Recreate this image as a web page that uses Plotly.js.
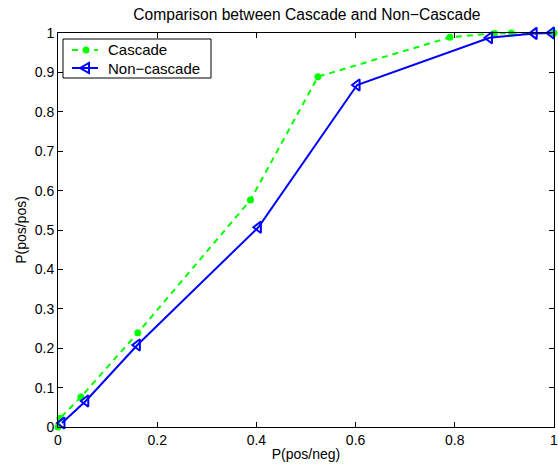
<!DOCTYPE html>
<html>
<head>
<meta charset="utf-8">
<script src="https://cdn.plot.ly/plotly-3.0.1.min.js"></script>
<style>html,body{margin:0;padding:0;background:#fff;}#chart{width:558px;height:467px;}</style>
</head>
<body>
<div id="chart"></div>
<script>
const cascadeX = [0, 0.004, 0.046, 0.161, 0.388, 0.524, 0.790, 0.880, 0.914, 1.0];
const cascadeY = [0, 0.022, 0.076, 0.239, 0.576, 0.889, 0.989, 0.999, 1.0, 1.0];
const nonCascadeX = [0.008, 0.056, 0.160, 0.404, 0.603, 0.870, 0.960, 0.995];
const nonCascadeY = [0.010, 0.066, 0.208, 0.507, 0.868, 0.988, 0.999, 1.0];
const tickVals = [0, 0.1, 0.2, 0.3, 0.4, 0.5, 0.6, 0.7, 0.8, 0.9, 1];
const tickText = ['0', '0.1', '0.2', '0.3', '0.4', '0.5', '0.6', '0.7', '0.8', '0.9', '1'];
const xTickVals = [0, 0.2, 0.4, 0.6, 0.8, 1];
const xTickText = ['0', '0.2', '0.4', '0.6', '0.8', '1'];
const seriesNames = ['Cascade', 'Non\u2212cascade'];
const seriesColors = ['#00ff00', '#0000ff'];

const font = 'Liberation Sans, Arial, Helvetica, sans-serif';
const W = 558, H = 467;
const M = {l: 58, r: 4, t: 33, b: 40};
const PW = W - M.l - M.r, PH = H - M.t - M.b;
// pixel -> paper helpers for the hand-built legend box
const px = v => (v - M.l) / PW;
const py = v => 1 - (v - M.t) / PH;

const traces = [
  {
    x: cascadeX, y: cascadeY, name: seriesNames[0], type: 'scatter', mode: 'lines+markers',
    line: {color: seriesColors[0], width: 2, dash: '6px,5px'},
    marker: {symbol: 'circle', size: 7, color: seriesColors[0]},
    cliponaxis: false
  },
  {
    x: nonCascadeX, y: nonCascadeY, name: seriesNames[1], type: 'scatter', mode: 'lines+markers',
    line: {color: seriesColors[1], width: 2},
    marker: {symbol: 'triangle-left-open', size: 10, color: seriesColors[1], line: {width: 2, color: seriesColors[1]}},
    cliponaxis: false
  }
];

// legend drawn as layout decoration
const legBox = {x0: 63, x1: 211, y0: 39, y1: 78};
const rowY = [50, 68];
const shapes = [
  {type: 'rect', xref: 'paper', yref: 'paper', x0: px(legBox.x0), x1: px(legBox.x1), y0: py(legBox.y1), y1: py(legBox.y0),
   line: {color: '#000', width: 1}, fillcolor: '#fff', layer: 'above'},
  {type: 'line', xref: 'paper', yref: 'paper', x0: px(72), x1: px(98), y0: py(rowY[0]), y1: py(rowY[0]),
   line: {color: seriesColors[0], width: 2, dash: '6px,5px'}, layer: 'above'},
  {type: 'circle', xref: 'paper', yref: 'paper', x0: px(82.5), x1: px(89.5), y0: py(rowY[0] + 3.5), y1: py(rowY[0] - 3.5),
   line: {color: seriesColors[0], width: 0}, fillcolor: seriesColors[0], layer: 'above'},
  {type: 'line', xref: 'paper', yref: 'paper', x0: px(72), x1: px(98), y0: py(rowY[1]), y1: py(rowY[1]),
   line: {color: seriesColors[1], width: 2}, layer: 'above'},
  {type: 'path', xref: 'paper', yref: 'paper',
   path: 'M ' + px(80) + ' ' + py(rowY[1]) + ' L ' + px(89) + ' ' + py(rowY[1] - 5) + ' L ' + px(89) + ' ' + py(rowY[1] + 5) + ' Z',
   line: {color: seriesColors[1], width: 2}, fillcolor: 'rgba(0,0,0,0)', layer: 'above'}
];
const annotations = seriesNames.map((n, i) => ({
  text: n, xref: 'paper', yref: 'paper', x: px(106), y: py(rowY[i]), xanchor: 'left', yanchor: 'middle',
  showarrow: false, font: {family: font, size: 15, color: '#000'}
}));

const axisCommon = {
  showgrid: false, zeroline: false, showline: true, linecolor: '#000', linewidth: 1,
  mirror: 'ticks', ticks: 'inside', ticklen: 5, tickcolor: '#000', tickwidth: 1,
  ticklabeloverflow: 'allow',
  tickfont: {family: font, size: 14, color: '#000'}
};
const layout = {
  width: W, height: H,
  margin: M,
  paper_bgcolor: '#fff', plot_bgcolor: '#fff',
  font: {family: font, color: '#000'},
  title: {text: 'Comparison between Cascade and Non\u2212Cascade', font: {family: font, size: 15.6, color: '#000'}, x: 0.55, xanchor: 'center', y: 0.968, yanchor: 'middle'},
  xaxis: Object.assign({}, axisCommon, {range: [0, 1], tickvals: xTickVals, ticktext: xTickText,
    title: {text: 'P(pos/neg)', font: {family: font, size: 14, color: '#000'}, standoff: 2}}),
  yaxis: Object.assign({}, axisCommon, {range: [0, 1], tickvals: tickVals, ticktext: tickText,
    title: {text: 'P(pos/pos)', font: {family: font, size: 14, color: '#000'}, standoff: 4}}),
  showlegend: false,
  shapes: shapes,
  annotations: annotations
};
Plotly.newPlot('chart', traces, layout, {displayModeBar: false, staticPlot: true});
</script>
</body>
</html>
